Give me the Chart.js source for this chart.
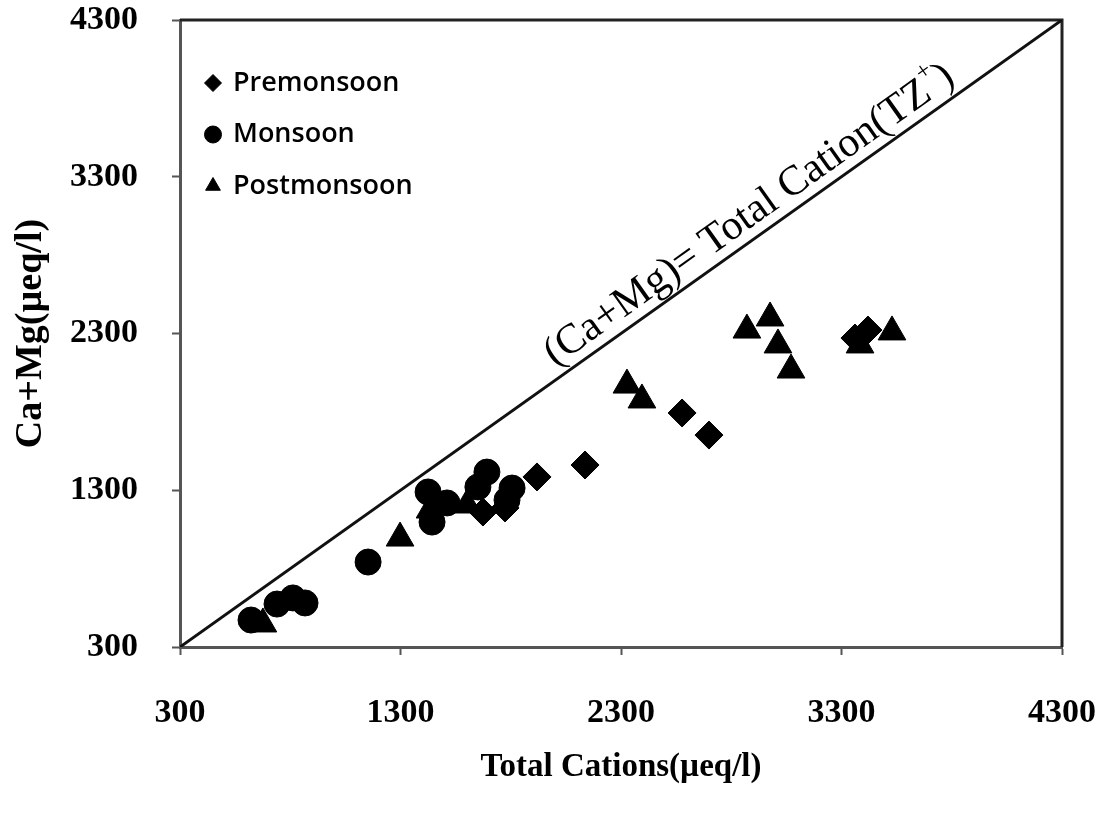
<!DOCTYPE html>
<html>
<head>
<meta charset="utf-8">
<script src="https://cdn.jsdelivr.net/npm/chart.js@4.4.1/dist/chart.umd.min.js"></script>
<style>
  html, body { margin: 0; padding: 0; background: #fff; }
  canvas { display: block; }
</style>
</head>
<body>
<canvas id="chart" width="1105" height="817"></canvas>
<script>
// axis range and ticks (same on both axes)
const axisMin = 300
const axisMax = 4300
const tickValues = [300, 1300, 2300, 3300, 4300]

// Premonsoon
const preX = [1674, 1774, 1919, 2137, 2577, 2699, 3361, 3420]
const preY = [1161, 1187, 1385, 1461, 1793, 1652, 2271, 2322]

// Monsoon
const monX = [622, 740, 812, 867, 1153, 1425, 1511, 1443, 1692, 1651, 1806, 1783]
const monY = [472, 574, 613, 581, 842, 1289, 1219, 1097, 1416, 1321, 1314, 1238]

// Postmonsoon
const postX = [676, 1298, 1434, 1602, 2327, 2395, 2871, 2976, 3012, 3071, 3384, 3529]
const postY = [447, 995, 1174, 1206, 1971, 1876, 2322, 2399, 2227, 2067, 2227, 2310]

// 1:1 line, and where its label starts along it
const lineX = [300, 4300]
const lineY = [300, 4300]
const lineLabelAt = 2030

const toPoints = (xs, ys) => xs.map((x, i) => ({ x: x, y: ys[i] }))

const serifBold = (size) => ({ family: '"Liberation Serif", "Times New Roman", serif', size: size, weight: 'bold' })

const frame = {
    id: 'frame',
    beforeDatasetsDraw(chart) {
        const { ctx, chartArea } = chart
        ctx.save()
        ctx.strokeStyle = '#222'
        ctx.lineWidth = 3
        ctx.beginPath()
        ctx.moveTo(chartArea.left, chartArea.top)
        ctx.lineTo(chartArea.right, chartArea.top)
        ctx.lineTo(chartArea.right, chartArea.bottom)
        ctx.stroke()
        ctx.restore()
    },
}

const diagonalLabel = {
    id: 'diagonalLabel',
    afterDatasetsDraw(chart) {
        const { ctx } = chart
        const x = chart.scales.x
        const y = chart.scales.y
        const x0 = x.getPixelForValue(lineX[0])
        const y0 = y.getPixelForValue(lineY[0])
        const x1 = x.getPixelForValue(lineX[1])
        const y1 = y.getPixelForValue(lineY[1])
        const angle = Math.atan2(y1 - y0, x1 - x0)

        ctx.save()
        ctx.translate(x.getPixelForValue(lineLabelAt), y.getPixelForValue(lineLabelAt))
        ctx.rotate(angle)
        ctx.fillStyle = '#000'
        ctx.textBaseline = 'alphabetic'
        ctx.textAlign = 'left'

        const main = '(Ca+Mg)= Total Cation(TZ'
        ctx.font = '42px "Liberation Serif"'
        ctx.fillText(main, 0, -11)
        let w = ctx.measureText(main).width
        ctx.font = '25px "Liberation Serif"'
        ctx.fillText('+', w, -31)
        w += ctx.measureText('+').width
        ctx.font = '42px "Liberation Serif"'
        ctx.fillText(')', w, -11)
        ctx.restore()
    },
}

// legend drawn inside the plot, top left
const legendBox = {
    id: 'legendBox',
    afterDraw(chart) {
        const { ctx, chartArea } = chart
        ctx.save()
        ctx.font = '600 27px "Open Sans"'
        ctx.textBaseline = 'middle'
        ctx.textAlign = 'left'
        chart.data.datasets.slice(0, 3).forEach((ds, i) => {
            const cx = chartArea.left + 33
            const cy = chartArea.top + 63 + i * 51.5
            ctx.fillStyle = '#000'
            ctx.strokeStyle = '#000'
            ctx.lineWidth = 1
            Chart.helpers.drawPoint(ctx, { pointStyle: ds.pointStyle, radius: 8.5, borderWidth: 1, rotation: 0 }, cx, cy)
            ctx.fillStyle = '#000'
            ctx.fillText(ds.label, cx + 20, cy)
        })
        ctx.restore()
    },
}

new Chart(document.getElementById('chart'), {
    type: 'scatter',
    data: {
        datasets: [
            {
                label: 'Premonsoon',
                data: toPoints(preX, preY),
                pointStyle: 'rectRot',
                pointRadius: 14,
                backgroundColor: '#000',
                borderColor: '#000',
            },
            {
                label: 'Monsoon',
                data: toPoints(monX, monY),
                pointStyle: 'circle',
                pointRadius: 13,
                backgroundColor: '#000',
                borderColor: '#000',
            },
            {
                label: 'Postmonsoon',
                data: toPoints(postX, postY),
                pointStyle: 'triangle',
                pointRadius: 16,
                backgroundColor: '#000',
                borderColor: '#000',
            },
            {
                label: '1:1',
                data: toPoints(lineX, lineY),
                showLine: true,
                pointRadius: 0,
                borderColor: '#111',
                borderWidth: 3,
            },
        ],
    },
    options: {
        responsive: false,
        animation: false,
        events: [],
        layout: { padding: { top: 20, right: 43, bottom: 0, left: 0 } },
        scales: {
            x: {
                type: 'linear',
                min: axisMin,
                max: axisMax,
                afterBuildTicks: (s) => { s.ticks = tickValues.map((v) => ({ value: v })) },
                afterFit: (s) => {
                    s.height = 170
                    s.paddingLeft = 0
                    s.paddingRight = 0
                },
                grid: { drawOnChartArea: false, tickLength: 8, tickColor: '#555', tickWidth: 2 },
                border: { color: '#555', width: 3 },
                ticks: { color: '#000', font: serifBold(34), padding: 38, maxRotation: 0, callback: (v) => String(v) },
                title: {
                    display: true,
                    text: 'Total Cations(µeq/l)',
                    color: '#000',
                    font: serifBold(33),
                    padding: { top: 0, bottom: 30 },
                },
            },
            y: {
                type: 'linear',
                min: axisMin,
                max: axisMax,
                afterBuildTicks: (s) => { s.ticks = tickValues.map((v) => ({ value: v })) },
                afterFit: (s) => {
                    s.width = 180
                    s.paddingTop = 0
                    s.paddingBottom = 0
                },
                grid: { drawOnChartArea: false, tickLength: 8, tickColor: '#555', tickWidth: 2 },
                border: { color: '#555', width: 3 },
                ticks: { color: '#000', font: serifBold(34), padding: 34, callback: (v) => String(v) },
                title: {
                    display: true,
                    text: 'Ca+Mg(µeq/l)',
                    color: '#000',
                    font: serifBold(38),
                    padding: { top: 8, bottom: 0 },
                },
            },
        },
        plugins: {
            tooltip: { enabled: false },
            legend: { display: false },
        },
    },
    plugins: [frame, diagonalLabel, legendBox],
})
</script>
</body>
</html>
